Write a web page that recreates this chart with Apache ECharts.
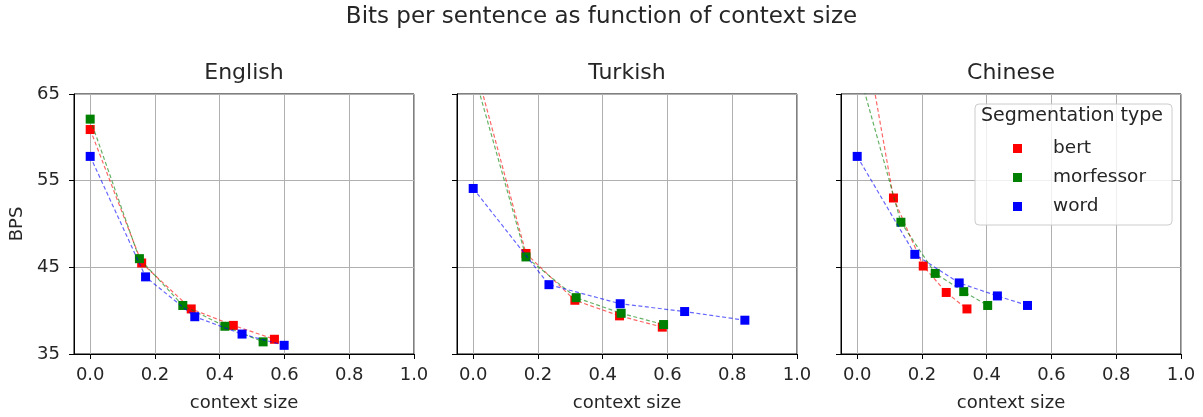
<!DOCTYPE html>
<html><head><meta charset="utf-8">
<script src="https://cdn.jsdelivr.net/npm/echarts@6/dist/echarts.min.js"></script>
<style>html,body{margin:0;padding:0;background:#fff}#c{width:1203px;height:417px}</style>
</head><body><div id="c"></div>
<script>
const chartTitle = 'Bits per sentence as function of context size';
const panelTitles = ['English', 'Turkish', 'Chinese'];
const seriesNames = ['bert', 'morfessor', 'word'];
const legendTitle = 'Segmentation type';
const xAxisName = 'context size';
const yAxisName = 'BPS';
const xTickValues = [0, 0.2, 0.4, 0.6, 0.8, 1.0];
const yTickValues = [35, 45, 55, 65];

const englishBert = [[0, 60.9], [0.159, 45.5], [0.312, 40.2], [0.442, 38.3], [0.569, 36.7]];
const englishMorfessor = [[0, 62.1], [0.152, 46.0], [0.286, 40.6], [0.416, 38.2], [0.534, 36.4]];
const englishWord = [[0, 57.8], [0.171, 43.9], [0.323, 39.3], [0.469, 37.3], [0.599, 36.0]];

const turkishBert = [[0, 69.1], [0.163, 46.6], [0.314, 41.2], [0.452, 39.4], [0.584, 38.1]];
const turkishMorfessor = [[0, 67.7], [0.163, 46.2], [0.318, 41.5], [0.457, 39.7], [0.588, 38.4]];
const turkishWord = [[0, 54.1], [0.234, 43.0], [0.454, 40.8], [0.653, 39.9], [0.839, 38.9]];

const chineseBert = [[0, 76.7], [0.112, 53.0], [0.204, 45.15], [0.275, 42.1], [0.339, 40.2]];
const chineseMorfessor = [[0, 68.3], [0.135, 50.2], [0.241, 44.3], [0.329, 42.2], [0.403, 40.6]];
const chineseWord = [[0, 57.8], [0.178, 46.5], [0.315, 43.2], [0.433, 41.7], [0.526, 40.6]];

const panelData = [
  [englishBert, englishMorfessor, englishWord],
  [turkishBert, turkishMorfessor, turkishWord],
  [chineseBert, chineseMorfessor, chineseWord]
];
const seriesColors = ['#ff0000', '#008000', '#0000ff'];

const FONT = 'DejaVu Sans';
const TXT = '#262626';
const gridLefts = [74, 457, 841];
const gridW = 340, gridTop = 94, gridH = 261;

const grids = [], xAxes = [], yAxes = [], series = [];
const titles = [{
  text: chartTitle, left: 'center', top: 6, padding: 0,
  textStyle: { fontFamily: FONT, fontSize: 23, fontWeight: 'normal', color: TXT }
}];

panelData.forEach((sets, i) => {
  grids.push({ left: gridLefts[i], top: gridTop, width: gridW, height: gridH,
    show: true, borderColor: '#000', borderWidth: 1, backgroundColor: 'transparent' });
  titles.push({ text: panelTitles[i], left: gridLefts[i] + gridW / 2, top: 62, padding: 0, textAlign: 'center',
    textStyle: { fontFamily: FONT, fontSize: 22, fontWeight: 'normal', color: TXT } });
  xAxes.push({
    type: 'value', gridIndex: i, min: -0.05, max: 1.0,
    name: xAxisName, nameLocation: 'middle', nameGap: 40,
    nameTextStyle: { fontFamily: FONT, fontSize: 18, color: TXT },
    axisLine: { show: true, onZero: false, lineStyle: { color: '#000', width: 1 } },
    axisTick: { show: true, length: 5, customValues: xTickValues, lineStyle: { color: '#000', width: 1 } },
    axisLabel: { customValues: xTickValues, margin: 12, fontFamily: FONT, fontSize: 18, color: TXT,
      formatter: v => v.toFixed(1) },
    splitLine: { show: true, lineStyle: { color: '#b0b0b0', width: 1 } }
  });
  yAxes.push({
    type: 'value', gridIndex: i, min: 35, max: 65,
    name: i === 0 ? yAxisName : '', nameLocation: 'middle', nameGap: 48,
    nameTextStyle: { fontFamily: FONT, fontSize: 18, color: TXT },
    axisLine: { show: true, onZero: false, lineStyle: { color: '#000', width: 1 } },
    axisTick: { show: true, length: 5, customValues: yTickValues, lineStyle: { color: '#000', width: 1 } },
    axisLabel: { show: i === 0, customValues: yTickValues, margin: 14, fontFamily: FONT, fontSize: 18, color: TXT },
    splitLine: { show: true, lineStyle: { color: '#b0b0b0', width: 1 } }
  });
  sets.forEach((data, k) => {
    series.push({
      type: 'line', name: seriesNames[k], xAxisIndex: i, yAxisIndex: i, data: data,
      symbol: 'rect', symbolSize: 9, clip: true, z: 3 + k,
      itemStyle: { color: seriesColors[k] },
      lineStyle: { color: seriesColors[k], width: 1.2, type: [4, 2.5], opacity: 0.6 }
    });
  });
});

titles.push({ text: legendTitle, left: 1072, top: 107, padding: 0, textAlign: 'center', z: 20,
  textStyle: { fontFamily: FONT, fontSize: 19, fontWeight: 'normal', color: TXT } });

const chart = echarts.init(document.getElementById('c'), null, { renderer: 'canvas' });
chart.setOption({
  animation: false,
  backgroundColor: '#fff',
  title: titles,
  grid: grids,
  xAxis: xAxes,
  yAxis: yAxes,
  legend: {
    data: seriesNames, orient: 'vertical', left: 975, top: 104, z: 10,
    icon: 'rect', itemWidth: 9, itemHeight: 9, itemGap: 10,
    padding: [35, 26, 9, 38],
    backgroundColor: 'rgba(255,255,255,0.8)', borderColor: '#cccccc', borderWidth: 1, borderRadius: 4,
    textStyle: { fontFamily: FONT, fontSize: 18.5, color: TXT, padding: [0, 0, 0, 26] },
    selectedMode: false
  },
  series: series
});
</script></body></html>
